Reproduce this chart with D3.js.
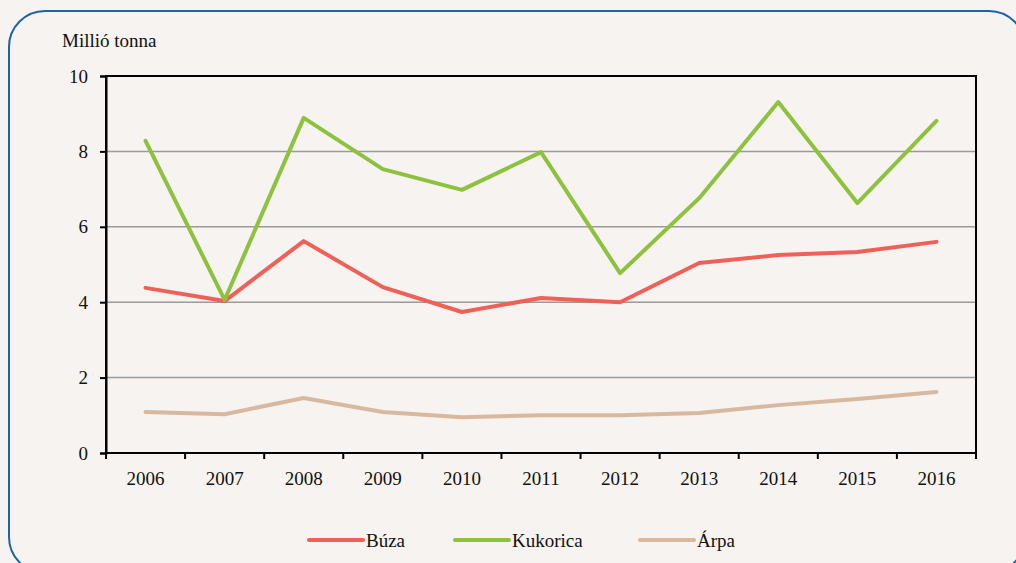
<!DOCTYPE html>
<html>
<head>
<meta charset="utf-8">
<script src="https://cdn.jsdelivr.net/npm/d3@7"></script>
<style>
  body { margin: 0; background: #f6f3f0; }
  svg { display: block; font-family: "Liberation Serif", "DejaVu Serif", serif; }
  .tick text { font-size: 19px; fill: #111; font-family: "Liberation Serif", "DejaVu Serif", serif; }
</style>
</head>
<body>
<div id="chart"></div>
<script>
// Data
const years = ["2006", "2007", "2008", "2009", "2010", "2011", "2012", "2013", "2014", "2015", "2016"];
const buza = [4.38, 4.03, 5.62, 4.40, 3.74, 4.11, 4.00, 5.04, 5.25, 5.33, 5.60];
const kukorica = [8.28, 4.06, 8.89, 7.53, 6.98, 7.98, 4.77, 6.76, 9.31, 6.63, 8.81];
const arpa = [1.09, 1.03, 1.46, 1.09, 0.95, 1.00, 1.00, 1.06, 1.27, 1.43, 1.62];
const yTicks = [0, 2, 4, 6, 8, 10];

const series = [
    {name: "Búza", values: buza, color: "#ee6058"},
    {name: "Kukorica", values: kukorica, color: "#8dc23e"},
    {name: "Árpa", values: arpa, color: "#d8b99f"}
];

const W = 1016, H = 563;
const margin = {top: 76, right: 40, bottom: 110, left: 106};
const width = 976 - margin.left;
const height = 453 - margin.top;

const root = d3.select("#chart")
    .append("svg")
    .attr("width", W)
    .attr("height", H);

// Frame
root.append("rect")
    .attr("x", 9)
    .attr("y", 11)
    .attr("width", 1016)
    .attr("height", 562)
    .attr("rx", 36)
    .attr("fill", "#f6f3f0")
    .attr("stroke", "#1d63a5")
    .attr("stroke-width", 2);

root.append("text")
    .attr("x", 62)
    .attr("y", 47)
    .attr("font-size", 19)
    .attr("fill", "#111")
    .text("Millió tonna");

const svg = root.append("g")
    .attr("transform", `translate(${margin.left},${margin.top})`);

// Scales
const x = d3.scaleBand()
    .domain(years)
    .range([0, width]);

const y = d3.scaleLinear()
    .domain([0, 10])
    .range([height, 0]);

// Gridlines
svg.selectAll(".grid")
    .data(yTicks.filter(d => d > 0 && d < 10))
    .join("line")
    .attr("x1", 0)
    .attr("x2", width)
    .attr("y1", d => y(d))
    .attr("y2", d => y(d))
    .attr("stroke", "#9a9a9a")
    .attr("stroke-width", 1.5);

// Lines
const line = d3.line()
    .x((d, i) => x(years[i]) + x.bandwidth() / 2)
    .y(d => y(d));

svg.selectAll(".series")
    .data(series)
    .join("path")
    .attr("fill", "none")
    .attr("stroke", d => d.color)
    .attr("stroke-width", 4)
    .attr("stroke-linejoin", "round")
    .attr("stroke-linecap", "round")
    .attr("d", d => line(d.values));

// Plot border
svg.append("rect")
    .attr("width", width)
    .attr("height", height)
    .attr("fill", "none")
    .attr("stroke", "#000")
    .attr("stroke-width", 2);

// Axes
const yAxis = svg.append("g")
    .call(d3.axisLeft(y).tickValues(yTicks).tickSize(6).tickPadding(12));
yAxis.attr("font-family", null).attr("font-size", null);
yAxis.select(".domain").attr("stroke", "#000").attr("stroke-width", 2);
yAxis.selectAll(".tick line").attr("stroke", "#000").attr("stroke-width", 2);

const xAxis = svg.append("g")
    .attr("transform", `translate(0,${height})`)
    .call(d3.axisBottom(x).tickSize(0).tickPadding(19));
xAxis.attr("font-family", null).attr("font-size", null);
xAxis.select(".domain").remove();

// Tick marks at category boundaries
svg.selectAll(".xtick")
    .data(years.concat(["end"]))
    .join("line")
    .attr("x1", (d, i) => i < years.length ? x(d) : width)
    .attr("x2", (d, i) => i < years.length ? x(d) : width)
    .attr("y1", height)
    .attr("y2", height + 6)
    .attr("stroke", "#000")
    .attr("stroke-width", 2);

// Legend
const legendX = [309, 455, 640];
const legend = root.append("g");
series.forEach((s, i) => {
    const item = legend.append("g")
        .attr("transform", `translate(${legendX[i]}, 540)`);
    item.append("line")
        .attr("x1", 0)
        .attr("x2", 54)
        .attr("stroke", s.color)
        .attr("stroke-width", 4)
        .attr("stroke-linecap", "round");
    item.append("text")
        .attr("x", 57)
        .attr("dy", "0.35em")
        .attr("font-size", 19)
        .attr("fill", "#111")
        .text(s.name);
});
</script>
</body>
</html>
